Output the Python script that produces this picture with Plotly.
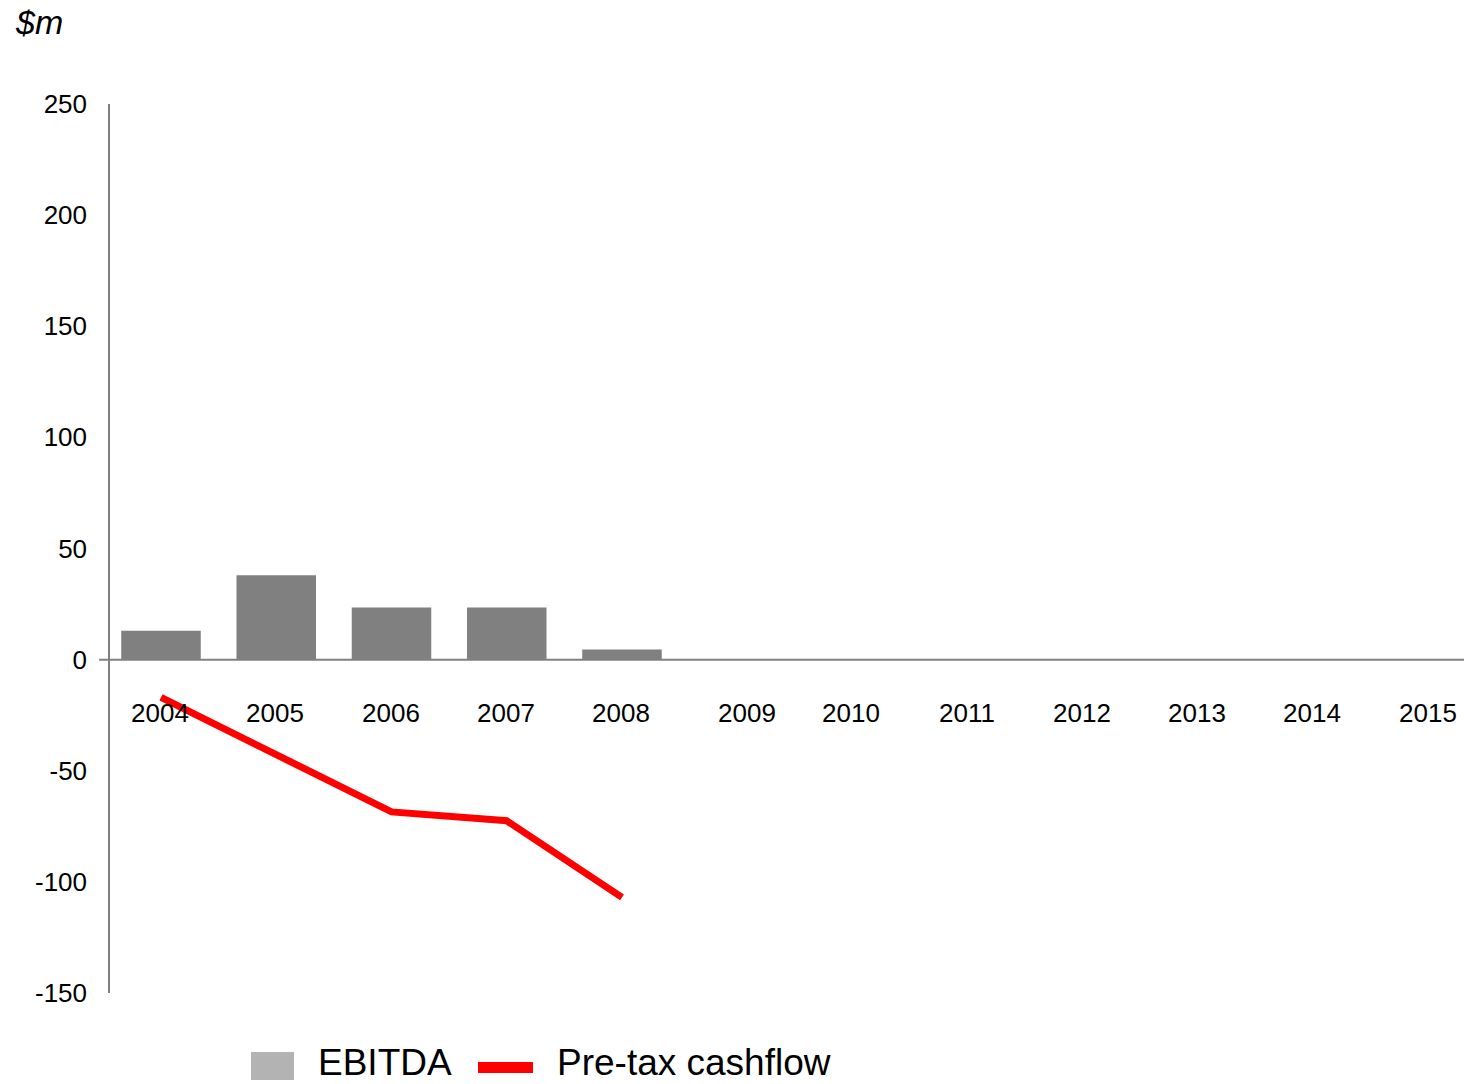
import plotly.graph_objects as go

# Data ($m)
years = ["2004", "2005", "2006", "2007", "2008", "2009", "2010",
         "2011", "2012", "2013", "2014", "2015"]
ebitda_years = ["2004", "2005", "2006", "2007", "2008"]
ebitda = [13, 38, 23.5, 23.5, 4.5]
cashflow_years = ["2004", "2005", "2006", "2007", "2008"]
pretax_cashflow = [-17, -42.5, -68.5, -72.5, -107]
y_ticks = [-150, -100, -50, 0, 50, 100, 150, 200, 250]
y_tick_text = ["-150", "-100", "-50", "0", "50", "100", "150", "200", "250"]

FONT = "Liberation Sans, Arial, sans-serif"
BAR_GREY = "#808080"
SWATCH_GREY = "#b3b3b3"
RED = "#ff0000"

# Plot-area geometry in pixels
PL, PT, PW, PH = 110, 104, 1354, 889


def px_x(px):
    return (px - PL) / PW


def px_y(py):
    return (PT + PH - py) / PH


fig = go.Figure()

fig.add_trace(go.Bar(
    x=ebitda_years, y=ebitda, name="EBITDA",
    marker=dict(color=BAR_GREY, line=dict(width=0)),
    width=0.69, showlegend=False,
))

fig.add_trace(go.Scatter(
    x=cashflow_years, y=pretax_cashflow, name="Pre-tax cashflow",
    mode="lines", line=dict(color=RED, width=7),
    showlegend=False,
))

# Horizontal axis line at zero, running slightly past the vertical axis
fig.add_shape(type="line", xref="paper", yref="y",
              x0=-0.008, x1=1, y0=0, y1=0,
              line=dict(color=BAR_GREY, width=2), layer="above")

# Year labels hanging below the zero line (category axis uses serial indices)
annotations = []
for i, yr in enumerate(years):
    annotations.append(dict(
        x=i, y=0, xref="x", yref="y", text=yr, showarrow=False,
        yanchor="middle", xanchor="center", yshift=-53,
        xshift=10 if yr == "2009" else -1,
        font=dict(family=FONT, size=26, color="black"),
    ))

# Unit label
annotations.append(dict(
    x=px_x(13), y=px_y(22), xref="paper", yref="paper", text="<i>$m</i>",
    showarrow=False, xanchor="left", yanchor="middle",
    font=dict(family=FONT, size=34, color="black"),
))

# Custom legend
fig.add_shape(type="rect", xref="paper", yref="paper",
              x0=px_x(251), x1=px_x(294), y0=px_y(1080), y1=px_y(1052),
              fillcolor=SWATCH_GREY, line=dict(width=0))
fig.add_shape(type="rect", xref="paper", yref="paper",
              x0=px_x(478), x1=px_x(533), y0=px_y(1073), y1=px_y(1062),
              fillcolor=RED, line=dict(width=0))
annotations.append(dict(
    x=px_x(316), y=px_y(1062), xref="paper", yref="paper", text="EBITDA",
    showarrow=False, xanchor="left", yanchor="middle",
    font=dict(family=FONT, size=37, color="black"),
))
annotations.append(dict(
    x=px_x(555), y=px_y(1062), xref="paper", yref="paper",
    text="Pre-tax cashflow",
    showarrow=False, xanchor="left", yanchor="middle",
    font=dict(family=FONT, size=37, color="black"),
))

fig.update_layout(
    width=1464, height=1084,
    margin=dict(l=PL, r=0, t=PT, b=1084 - PT - PH, pad=0),
    paper_bgcolor="white", plot_bgcolor="white",
    font=dict(family=FONT, size=26, color="black"),
    showlegend=False,
    annotations=annotations,
    xaxis=dict(
        type="category", categoryorder="array", categoryarray=years,
        range=[-0.4425, 11.306], showticklabels=False, showgrid=False,
        zeroline=False, showline=False, ticks="",
    ),
    yaxis=dict(
        range=[-150, 250], tickvals=y_ticks, ticktext=y_tick_text,
        showgrid=False, zeroline=False, showline=True,
        linecolor=BAR_GREY, linewidth=1.5, ticks="",
        ticklabelstandoff=16,
        tickfont=dict(family=FONT, size=26, color="black"),
    ),
)

fig.write_html("out.html")
